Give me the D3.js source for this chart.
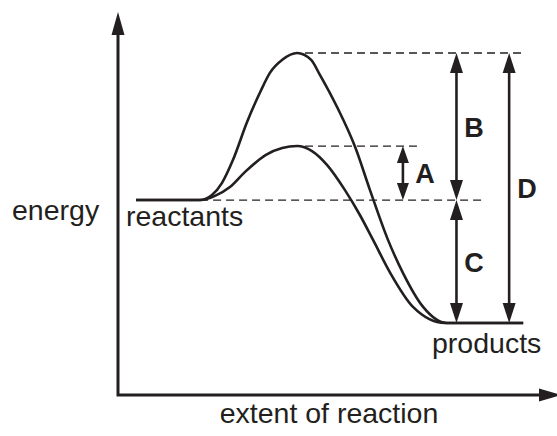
<!DOCTYPE html>
<html>
<head>
<meta charset="utf-8">
<script src="https://cdn.jsdelivr.net/npm/d3@7"></script>
<style>
  html, body { margin: 0; padding: 0; background: #fff; }
  svg { display: block; }
  text { font-family: "Liberation Sans", Arial, sans-serif; fill: #231f20; }
</style>
</head>
<body>
<div id="chart"></div>
<script>
// reaction pathway (extent 0-100, energy 0-100)
const extentUncat = [4.1, 18.7, 21.4, 23.7, 26.2, 29.4, 32.4, 34.6, 37.5, 40.8, 44.0, 45.8, 49.9, 54.0, 57.4, 61.5, 64.9, 69.5, 74.9, 92.3];
const energyUncat = [50.9, 50.9, 52.2, 55.4, 61.4, 71.3, 79.1, 84.1, 87.6, 89.3, 87.5, 84.0, 75.2, 64.8, 53.5, 40.5, 31.9, 23.0, 18.8, 18.8];

const extentCat = [4.1, 18.7, 22.1, 25.5, 28.9, 33.7, 37.4, 40.8, 44.2, 47.6, 51.7, 55.1, 58.1, 62.0, 67.2, 74.5, 92.3];
const energyCat = [50.9, 50.9, 52.0, 54.3, 58.2, 62.7, 64.5, 65.0, 63.7, 60.1, 53.5, 47.0, 40.5, 31.9, 23.0, 18.8, 18.8];

// energy levels
const levelNames = ['reactants', 'products'];
const levelEnergy = [50.9, 18.8];

// guide lines (dashed): reactants, catalysed peak, uncatalysed peak
const guideEnergy = [50.9, 65.0, 89.3];
const guideFrom = [18.7, 42.6, 42.6];
const guideTo = [83.1, 68.1, 92.7];

// double arrows: A, B, C, D
const arrowLabels = ['A', 'B', 'C', 'D'];
const arrowFrom = [50.9, 50.9, 18.8, 18.8];
const arrowTo = [65.0, 89.3, 50.9, 89.3];

const axisLabels = ['energy', 'extent of reaction'];

const W = 557, H = 436;
const ink = '#231f20';

const svg = d3.select('#chart').append('svg')
  .attr('width', W)
  .attr('height', H);

const x = d3.scaleLinear().domain([0, 100]).range([118, 557]);
const y = d3.scaleLinear().domain([0, 100]).range([395, 12]);

// arrow head: tip at (tx, ty)
function head(tx, ty, dir, len, half) {
  if (dir === 'up') return `M${tx},${ty}L${tx - half},${ty + len}L${tx + half},${ty + len}Z`;
  if (dir === 'down') return `M${tx},${ty}L${tx - half},${ty - len}L${tx + half},${ty - len}Z`;
  return `M${tx},${ty}L${tx - len},${ty - half}L${tx - len},${ty + half}Z`;
}

// axes
const ox = x(0), oy = y(0);
svg.append('path')
  .attr('d', `M${ox},${y(100) + 18}L${ox},${oy}L${W - 12},${oy}`)
  .attr('fill', 'none')
  .attr('stroke', ink)
  .attr('stroke-width', 3);
svg.append('path').attr('d', head(ox, y(100), 'up', 23, 6.5)).attr('fill', ink);
svg.append('path').attr('d', head(W + 4, oy, 'right', 22, 6.5)).attr('fill', ink);

// dashed guides
svg.append('g')
  .selectAll('line')
  .data(guideEnergy)
  .enter().append('line')
  .attr('x1', (d, i) => x(guideFrom[i]))
  .attr('x2', (d, i) => x(guideTo[i]))
  .attr('y1', d => y(d))
  .attr('y2', d => y(d))
  .attr('stroke', ink)
  .attr('stroke-width', 1.3)
  .attr('stroke-dasharray', '8,5');

// curves
const line = d3.line()
  .x(d => x(d[0]))
  .y(d => y(d[1]))
  .curve(d3.curveMonotoneX);

const paths = [
  d3.zip(extentUncat, energyUncat),
  d3.zip(extentCat, energyCat)
];

svg.append('g')
  .selectAll('path')
  .data(paths)
  .enter().append('path')
  .attr('d', line)
  .attr('fill', 'none')
  .attr('stroke', ink)
  .attr('stroke-width', 2.6);

// double arrows
const arrowX = [64.9, 77.1, 77.1, 89.1];
const arrowHeadLen = [17, 20, 20, 20];
const arrowHalf = [6, 6.5, 6.5, 6.5];
const ag = svg.append('g');
arrowLabels.forEach((lab, i) => {
  const ax = x(arrowX[i]);
  const yTop = y(Math.max(arrowFrom[i], arrowTo[i]));
  const yBot = y(Math.min(arrowFrom[i], arrowTo[i]));
  ag.append('line')
    .attr('x1', ax).attr('x2', ax)
    .attr('y1', yTop + 5).attr('y2', yBot - 5)
    .attr('stroke', ink)
    .attr('stroke-width', 2.6);
  ag.append('path').attr('d', head(ax, yTop, 'up', arrowHeadLen[i], arrowHalf[i])).attr('fill', ink);
  ag.append('path').attr('d', head(ax, yBot, 'down', arrowHeadLen[i], arrowHalf[i])).attr('fill', ink);
});

// letters next to arrows
const letterPos = [[425, 183], [474, 137], [474, 272], [527, 198]];
svg.append('g')
  .selectAll('text')
  .data(arrowLabels)
  .enter().append('text')
  .attr('x', (d, i) => letterPos[i][0])
  .attr('y', (d, i) => letterPos[i][1])
  .attr('text-anchor', 'middle')
  .attr('font-size', 27)
  .attr('font-weight', 'bold')
  .text(d => d);

// state labels
svg.append('text')
  .attr('x', 126)
  .attr('y', 226)
  .attr('font-size', 28.5)
  .text(levelNames[0]);
svg.append('text')
  .attr('x', 432)
  .attr('y', 353)
  .attr('font-size', 28.5)
  .text(levelNames[1]);

// axis titles
svg.append('text')
  .attr('x', 12)
  .attr('y', 220)
  .attr('font-size', 28.5)
  .text(axisLabels[0]);
svg.append('text')
  .attr('x', 329)
  .attr('y', 423)
  .attr('text-anchor', 'middle')
  .attr('font-size', 28.5)
  .text(axisLabels[1]);
</script>
</body>
</html>
